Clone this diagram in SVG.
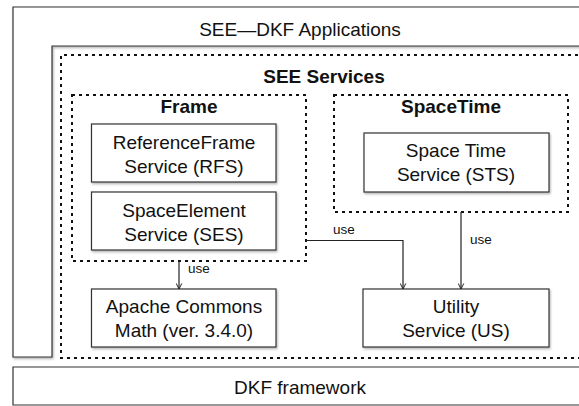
<svg xmlns="http://www.w3.org/2000/svg" width="579" height="406" viewBox="0 0 579 406">
<defs>
<filter id="sh" x="-5%" y="-5%" width="110%" height="115%"><feDropShadow dx="1" dy="1.5" stdDeviation="1" flood-color="#000" flood-opacity="0.3"/></filter>
<marker id="arr" viewBox="0 0 10 10" refX="9" refY="5" markerWidth="7" markerHeight="7" markerUnits="userSpaceOnUse" orient="auto"><path d="M1 1 L9 5 L1 9" fill="none" stroke="#222" stroke-width="1.4"/></marker>
</defs>
<style>
.box{fill:#fff;stroke:#333;stroke-width:1.2}
.dash{fill:none;stroke:#111;stroke-width:2;stroke-dasharray:3 4}
.t{font-family:"Liberation Sans",Arial,sans-serif;font-size:19px;fill:#111;text-anchor:middle}
.b{font-weight:bold}
.u{font-family:"Liberation Sans",Arial,sans-serif;font-size:13.5px;fill:#111}
.c{fill:none;stroke:#222;stroke-width:1.2}
</style>
<g id="apps">
<path d="M585 7 H13 V357 H52 V46 H585" class="box" filter="url(#sh)"/>
<text class="t" x="300" y="36">SEE—DKF Applications</text>
</g>
<g id="dkf">
<path d="M585 367 H13 V405 H585" class="box"/>
<text class="t" x="300" y="394">DKF framework</text>
</g>
<g id="services">
<path d="M585 55 H61 V358 H585" class="dash"/>
<text class="t b" x="324" y="83">SEE Services</text>
</g>
<g id="frame">
<rect x="72" y="95" width="234" height="166" class="dash"/>
<text class="t b" x="189" y="113">Frame</text>
</g>
<g id="spacetime">
<rect x="334" y="95" width="234" height="117" class="dash"/>
<text class="t b" x="451" y="113">SpaceTime</text>
</g>
<g id="rfs">
<rect x="91.5" y="124" width="184.5" height="58" class="box" filter="url(#sh)"/>
<text class="t" x="184" y="149">ReferenceFrame</text>
<text class="t" x="184" y="173">Service (RFS)</text>
</g>
<g id="ses">
<rect x="91.5" y="192" width="184.5" height="58" class="box" filter="url(#sh)"/>
<text class="t" x="184" y="217">SpaceElement</text>
<text class="t" x="184" y="241">Service (SES)</text>
</g>
<g id="sts">
<rect x="364" y="133" width="185" height="59" class="box" filter="url(#sh)"/>
<text class="t" x="456" y="157">Space Time</text>
<text class="t" x="456" y="181">Service (STS)</text>
</g>
<g id="acm">
<rect x="91.5" y="289" width="184.5" height="58" class="box" filter="url(#sh)"/>
<text class="t" x="184" y="313">Apache Commons</text>
<text class="t" x="184" y="337">Math (ver. 3.4.0)</text>
</g>
<g id="us">
<rect x="363" y="289" width="186" height="58" class="box" filter="url(#sh)"/>
<text class="t" x="456" y="313">Utility</text>
<text class="t" x="456" y="337">Service (US)</text>
</g>
<g id="connectors">
<path d="M179 261 V289" class="c" marker-end="url(#arr)"/>
<path d="M306 240.5 H403 V289" class="c" marker-end="url(#arr)"/>
<path d="M461 212 V289" class="c" marker-end="url(#arr)"/>
<text class="u" x="188" y="273">use</text>
<text class="u" x="333" y="234">use</text>
<text class="u" x="470" y="244">use</text>
</g>
</svg>
